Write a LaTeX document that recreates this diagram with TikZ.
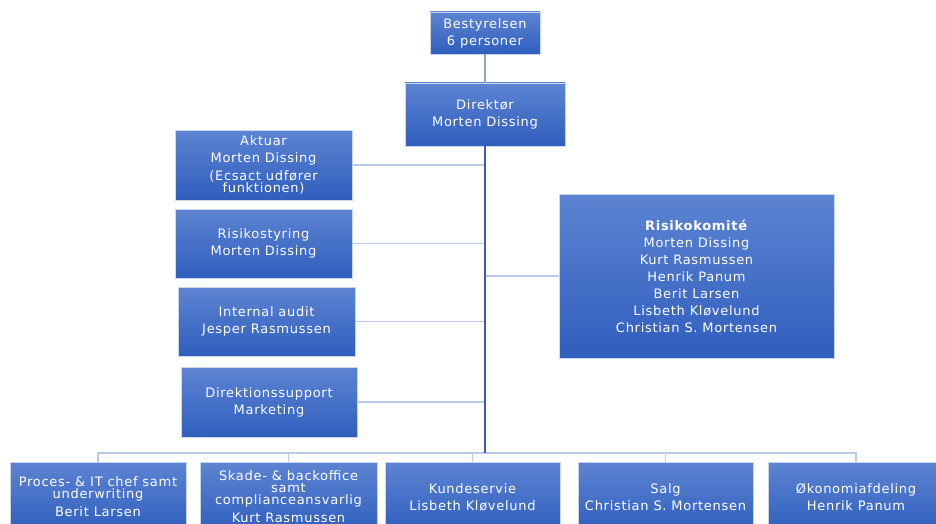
\documentclass[tikz,border=0pt]{standalone}
\usepackage{fontspec}
\setmainfont[LetterSpace=5.5]{DejaVu Sans}
\definecolor{boxtop}{HTML}{5D84D2}
\definecolor{boxbot}{HTML}{2F5EBD}
\definecolor{boxedge}{HTML}{C8D5EE}
\definecolor{lightline}{HTML}{B9CAE9}
\definecolor{darkline}{HTML}{3A5DAE}
\definecolor{topline}{HTML}{8FA4CE}
\tikzset{
  orgbox/.style={draw=boxedge, line width=0.8pt, top color=boxtop, bottom color=boxbot,
    text=white, font=\fontsize{13}{17}\selectfont, align=center, inner sep=0pt},
  lite/.style={draw=lightline, line width=1.2pt},
  dark/.style={draw=darkline, line width=1.2pt}
}
\begin{document}
\begin{tikzpicture}[x=1pt,y=-1pt]
\useasboundingbox (0,0) rectangle (936,524);
\begin{scope}
\clip (0,0) rectangle (936,524);
% nodes
\node[orgbox, minimum width=110pt, minimum height=42pt] (best) at (485,33) {Bestyrelsen\\6 personer};
\node[orgbox, minimum width=160pt, minimum height=63pt] (dir) at (485,114.5) {Direktør\\Morten Dissing};
\node[orgbox, minimum width=177pt, minimum height=70pt] (akt) at (263.5,165) {Aktuar\\Morten Dissing\\[1pt](Ecsact udfører\\[-5pt]funktionen)};
\node[orgbox, minimum width=177pt, minimum height=69pt] (ris) at (263.5,243.5) {Risikostyring\\Morten Dissing};
\node[orgbox, minimum width=177pt, minimum height=69pt] (aud) at (266.5,321.5) {Internal audit\\Jesper Rasmussen};
\node[orgbox, minimum width=176pt, minimum height=70pt] (sup) at (269,402) {Direktionssupport\\Marketing};
\node[orgbox, minimum width=275pt, minimum height=164pt] (kom) at (696.5,276) {\textbf{Risikokomité}\\Morten Dissing\\Kurt Rasmussen\\Henrik Panum\\Berit Larsen\\Lisbeth Kløvelund\\Christian S. Mortensen};
\node[orgbox, minimum width=176pt, minimum height=70pt] (b1) at (98,497) {Proces- \& IT chef samt\\[-5pt]underwriting\\[1pt]Berit Larsen};
\node[orgbox, minimum width=177pt, minimum height=70pt] (b2) at (288.5,497) {Skade- \& backoffice\\[-5pt]samt\\[-5pt]complianceansvarlig\\[1pt]Kurt Rasmussen};
\node[orgbox, minimum width=175pt, minimum height=70pt] (b3) at (472.5,497) {Kundeservie\\Lisbeth Kløvelund};
\node[orgbox, minimum width=175pt, minimum height=70pt] (b4) at (665.5,497) {Salg\\Christian S. Mortensen};
\node[orgbox, minimum width=176pt, minimum height=70pt] (b5) at (856,497) {Økonomiafdeling\\Henrik Panum};
\coordinate (bus) at (485,453);
% connectors
\draw[draw=topline, line width=1.2pt] (best.south) -- (dir.north);
\draw[lite] (b1.north) |- (bus);
\draw[lite] (b2.north) |- (bus);
\draw[lite] (b3.north) |- (bus);
\draw[lite] (b4.north) |- (bus);
\draw[lite] (b5.north) |- (bus);
\draw[lite] (akt.east) -- (akt.east -| dir.south);
\draw[lite] (ris.east) -- (ris.east -| dir.south);
\draw[lite] (aud.east) -- (aud.east -| dir.south);
\draw[lite] (sup.east) -- (sup.east -| dir.south);
\draw[lite] (kom.west) -- (kom.west -| dir.south);
\draw[dark] (dir.south) -- (bus);
\end{scope}
\end{tikzpicture}
\end{document}
